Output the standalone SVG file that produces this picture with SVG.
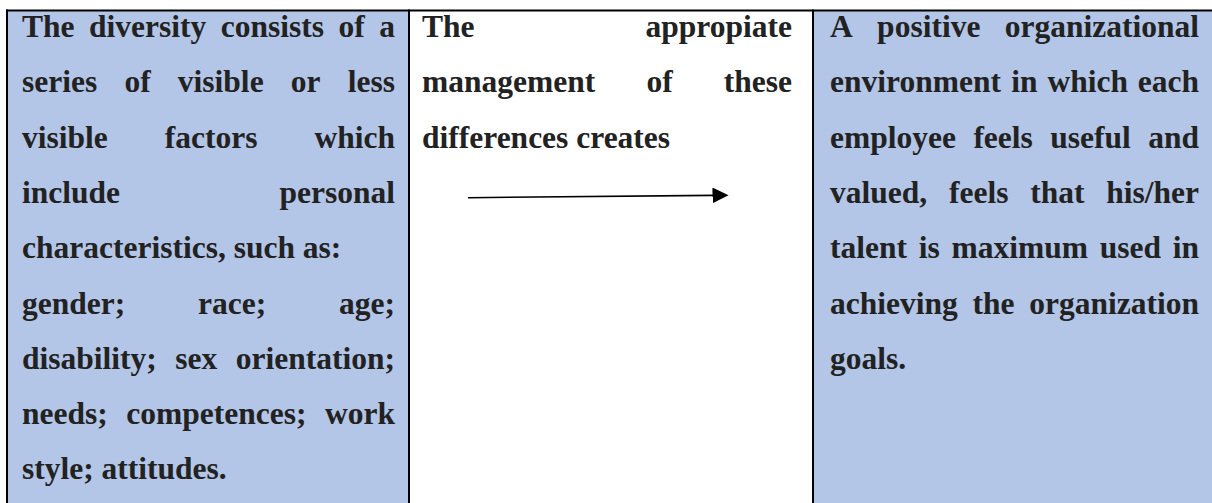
<svg xmlns="http://www.w3.org/2000/svg" width="1212" height="503" viewBox="0 0 1212 503">
  <style>
    .cell-blue { fill: #b4c6e7; }
    .cell-white { fill: #ffffff; }
    .rule { stroke: #000000; stroke-width: 2; fill: none; }
    .t { font-family: "Liberation Serif", "Times New Roman", serif; font-weight: bold; font-size: 31.5px; fill: #222222; }
    .arrow { stroke: #000000; stroke-width: 1.6; fill: none; }
  </style>
  <defs>
    <marker id="arrowhead" markerUnits="userSpaceOnUse" markerWidth="17" markerHeight="16" refX="0.5" refY="7.8" orient="auto">
      <path d="M0,0 L16,7.8 L0,15.6 Z" fill="#000000"/>
    </marker>
  </defs>

  <rect width="1212" height="503" fill="#ffffff"/>

  <!-- left cell -->
  <g id="cell-diversity">
    <rect class="cell-blue" x="8" y="11" width="400" height="492"/>
    <text class="t" y="37"><tspan x="22">The</tspan><tspan x="89.01">diversity</tspan><tspan x="220.75">consists</tspan><tspan x="338.51">of</tspan><tspan x="379.25">a</tspan></text>
    <text class="t" y="92.3"><tspan x="22">series</tspan><tspan x="124.42">of</tspan><tspan x="177.85">visible</tspan><tspan x="290.82">or</tspan><tspan x="347.75">less</tspan></text>
    <text class="t" y="147.6"><tspan x="22">visible</tspan><tspan x="164.77">factors</tspan><tspan x="314.47">which</tspan></text>
    <text class="t" y="202.9"><tspan x="22">include</tspan><tspan x="395" text-anchor="end">personal</tspan></text>
    <text class="t" x="22" y="258.2">characteristics, such as:</text>
    <text class="t" y="313.5"><tspan x="22">gender;</tspan><tspan x="198.03">race;</tspan><tspan x="339.03">age;</tspan></text>
    <text class="t" y="368.8"><tspan x="22">disability;</tspan><tspan x="175.29">sex</tspan><tspan x="235.78">orientation;</tspan></text>
    <text class="t" y="424.1"><tspan x="22">needs;</tspan><tspan x="126.28">competences;</tspan><tspan x="325">work</tspan></text>
    <text class="t" x="22" y="479.4">style; attitudes.</text>
  </g>

  <!-- middle cell -->
  <g id="cell-management">
    <rect class="cell-white" x="410" y="11" width="402" height="492"/>
    <text class="t" y="37"><tspan x="422">The</tspan><tspan x="792" text-anchor="end">appropiate</tspan></text>
    <text class="t" y="92.3"><tspan x="422">management</tspan><tspan x="646.38">of</tspan><tspan x="723.78">these</tspan></text>
    <text class="t" x="422" y="147.6">differences creates</text>
  </g>

  <!-- right cell -->
  <g id="cell-environment">
    <rect class="cell-blue" x="814" y="11" width="398" height="492"/>
    <text class="t" y="37"><tspan x="830">A</tspan><tspan x="877.11">positive</tspan><tspan x="1004.74">organizational</tspan></text>
    <text class="t" y="92.3"><tspan x="830">environment</tspan><tspan x="1011.32">in</tspan><tspan x="1047.42">which</tspan><tspan x="1137.76">each</tspan></text>
    <text class="t" y="147.6"><tspan x="830">employee</tspan><tspan x="973.39">feels</tspan><tspan x="1050.28">useful</tspan><tspan x="1148.21">and</tspan></text>
    <text class="t" y="202.9"><tspan x="830">valued,</tspan><tspan x="948.94">feels</tspan><tspan x="1030.2">that</tspan><tspan x="1106.23">his/her</tspan></text>
    <text class="t" y="258.2"><tspan x="830">talent</tspan><tspan x="918.74">is</tspan><tspan x="951.49">maximum</tspan><tspan x="1099.73">used</tspan><tspan x="1172.74">in</tspan></text>
    <text class="t" y="313.5"><tspan x="830">achieving</tspan><tspan x="972.51">the</tspan><tspan x="1029.25">organization</tspan></text>
    <text class="t" x="830" y="368.8">goals.</text>
  </g>

  <!-- table rules -->
  <g id="grid">
    <line class="rule" x1="6" y1="10.5" x2="1212" y2="10.5"/>
    <line class="rule" x1="7" y1="9.5" x2="7" y2="503"/>
    <line class="rule" x1="409" y1="9.5" x2="409" y2="503"/>
    <line class="rule" x1="813" y1="9.5" x2="813" y2="503"/>
  </g>

  <g id="connectors">
    <line class="arrow" x1="468" y1="197.7" x2="713" y2="195.4" marker-end="url(#arrowhead)"/>
  </g>
</svg>
